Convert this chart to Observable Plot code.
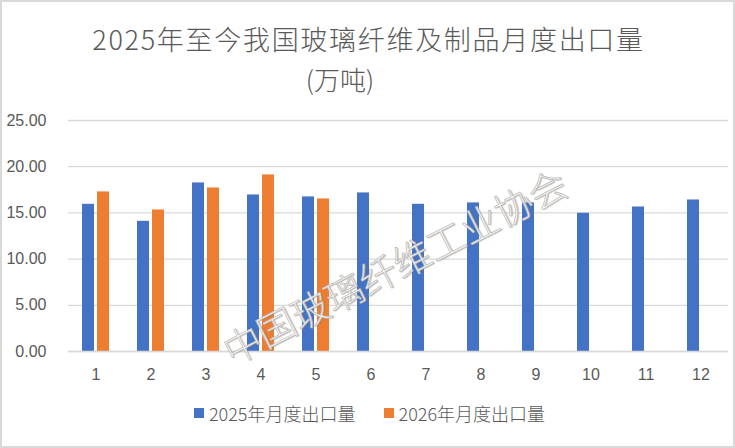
<!DOCTYPE html>
<html>
<head>
<meta charset="utf-8">
<script src="https://cdn.jsdelivr.net/npm/d3@7"></script>
<script src="https://cdn.jsdelivr.net/npm/@observablehq/plot@0.6"></script>
<style>
  html, body { margin: 0; padding: 0; background: #fff; }
  #chart {
    position: relative; width: 735px; height: 448px; box-sizing: border-box;
    border: 2px solid #d9d9d9; overflow: hidden; background: #fff;
    font-family: "Noto Sans CJK SC", "Noto Sans", sans-serif; color: #595959;
  }
  #title { height: 98px; box-sizing: border-box; padding-top: 17px; text-align: center;
    font-size: 27px; line-height: 40px; color: #595959; font-weight: 300; }
  #title .l1 { letter-spacing: 1.7px; padding-left: 2px; }
  #title .l2 { padding-right: 55px; font-size: 26px; }
  #legend { height: 46px; display: flex; justify-content: center; align-items: center;
    gap: 28px; font-size: 18px; color: #595959; padding-left: 4px; padding-bottom: 20px; box-sizing: border-box; font-weight: 300; }
  #legend .item { display: flex; align-items: center; gap: 5px; }
  #legend .sw { width: 10px; height: 10px; display: inline-block; }
  #wm { position: absolute; left: 392px; top: 263px; transform: translate(-50%, -50%) rotate(-27deg);
    font-size: 38px; white-space: nowrap; color: rgba(255,255,255,0.92);
    -webkit-text-stroke: 0.7px #b8b8b8; text-shadow: 1px 1px 1px rgba(120,120,120,0.5);
    font-family: "Noto Sans CJK SC", sans-serif; font-weight: 300; pointer-events: none; }
</style>
</head>
<body>
<div id="chart">
  <div id="title"><div class="l1">2025年至今我国玻璃纤维及制品月度出口量</div><div class="l2">(万吨)</div></div>
  <div id="plot"></div>
  <div id="legend"></div>
  <div id="wm">中国玻璃纤维工业协会</div>
</div>
<script>
const months = [1, 2, 3, 4, 5, 6, 7, 8, 9, 10, 11, 12];
const seriesNames = ["2025年月度出口量", "2026年月度出口量"];
const exports2025 = [15.93, 14.09, 18.24, 16.94, 16.73, 17.16, 15.93, 16.08, 16.08, 14.96, 15.64, 16.40];
const exports2026 = [17.27, 15.32, 17.70, 19.11, 16.51];
const yTicks = [0, 5, 10, 15, 20, 25];
const colors = ["#4472C4", "#ED7D31"];

const data = [
  ...exports2025.map((v, i) => ({month: months[i], series: seriesNames[0], value: v})),
  ...exports2026.map((v, i) => ({month: months[i], series: seriesNames[1], value: v}))
];

const chart = Plot.plot({
  width: 731,
  height: 300,
  marginLeft: 66,
  marginRight: 5,
  marginTop: 20,
  marginBottom: 49,
  style: {fontFamily: "'Liberation Sans', Arial, sans-serif", fontSize: "16px", color: "#595959", background: "transparent"},
  fx: {domain: months, padding: 0, label: null, axis: "bottom", tickSize: 0, tickPadding: 17},
  x: {domain: seriesNames, axis: null, paddingInner: 0.2, paddingOuter: 0.87},
  y: {domain: [0, 25], ticks: yTicks, tickFormat: d => d.toFixed(2), label: null, tickSize: 0, tickPadding: 22},
  color: {domain: seriesNames, range: colors},
  marks: [
    Plot.ruleY(yTicks, {stroke: "#d9d9d9", strokeWidth: 1.3}),
    Plot.barY(data, {fx: "month", x: "series", y: "value", fill: "series"}),
    Plot.ruleY([0], {stroke: "#d9d9d9", strokeWidth: 1.3})
  ]
});
document.getElementById("plot").appendChild(chart);

const legend = document.getElementById("legend");
seriesNames.forEach((name, i) => {
  const item = document.createElement("div");
  item.className = "item";
  const sw = document.createElement("span");
  sw.className = "sw";
  sw.style.background = colors[i];
  const label = document.createElement("span");
  label.textContent = name;
  item.appendChild(sw);
  item.appendChild(label);
  legend.appendChild(item);
});
</script>
</body>
</html>
